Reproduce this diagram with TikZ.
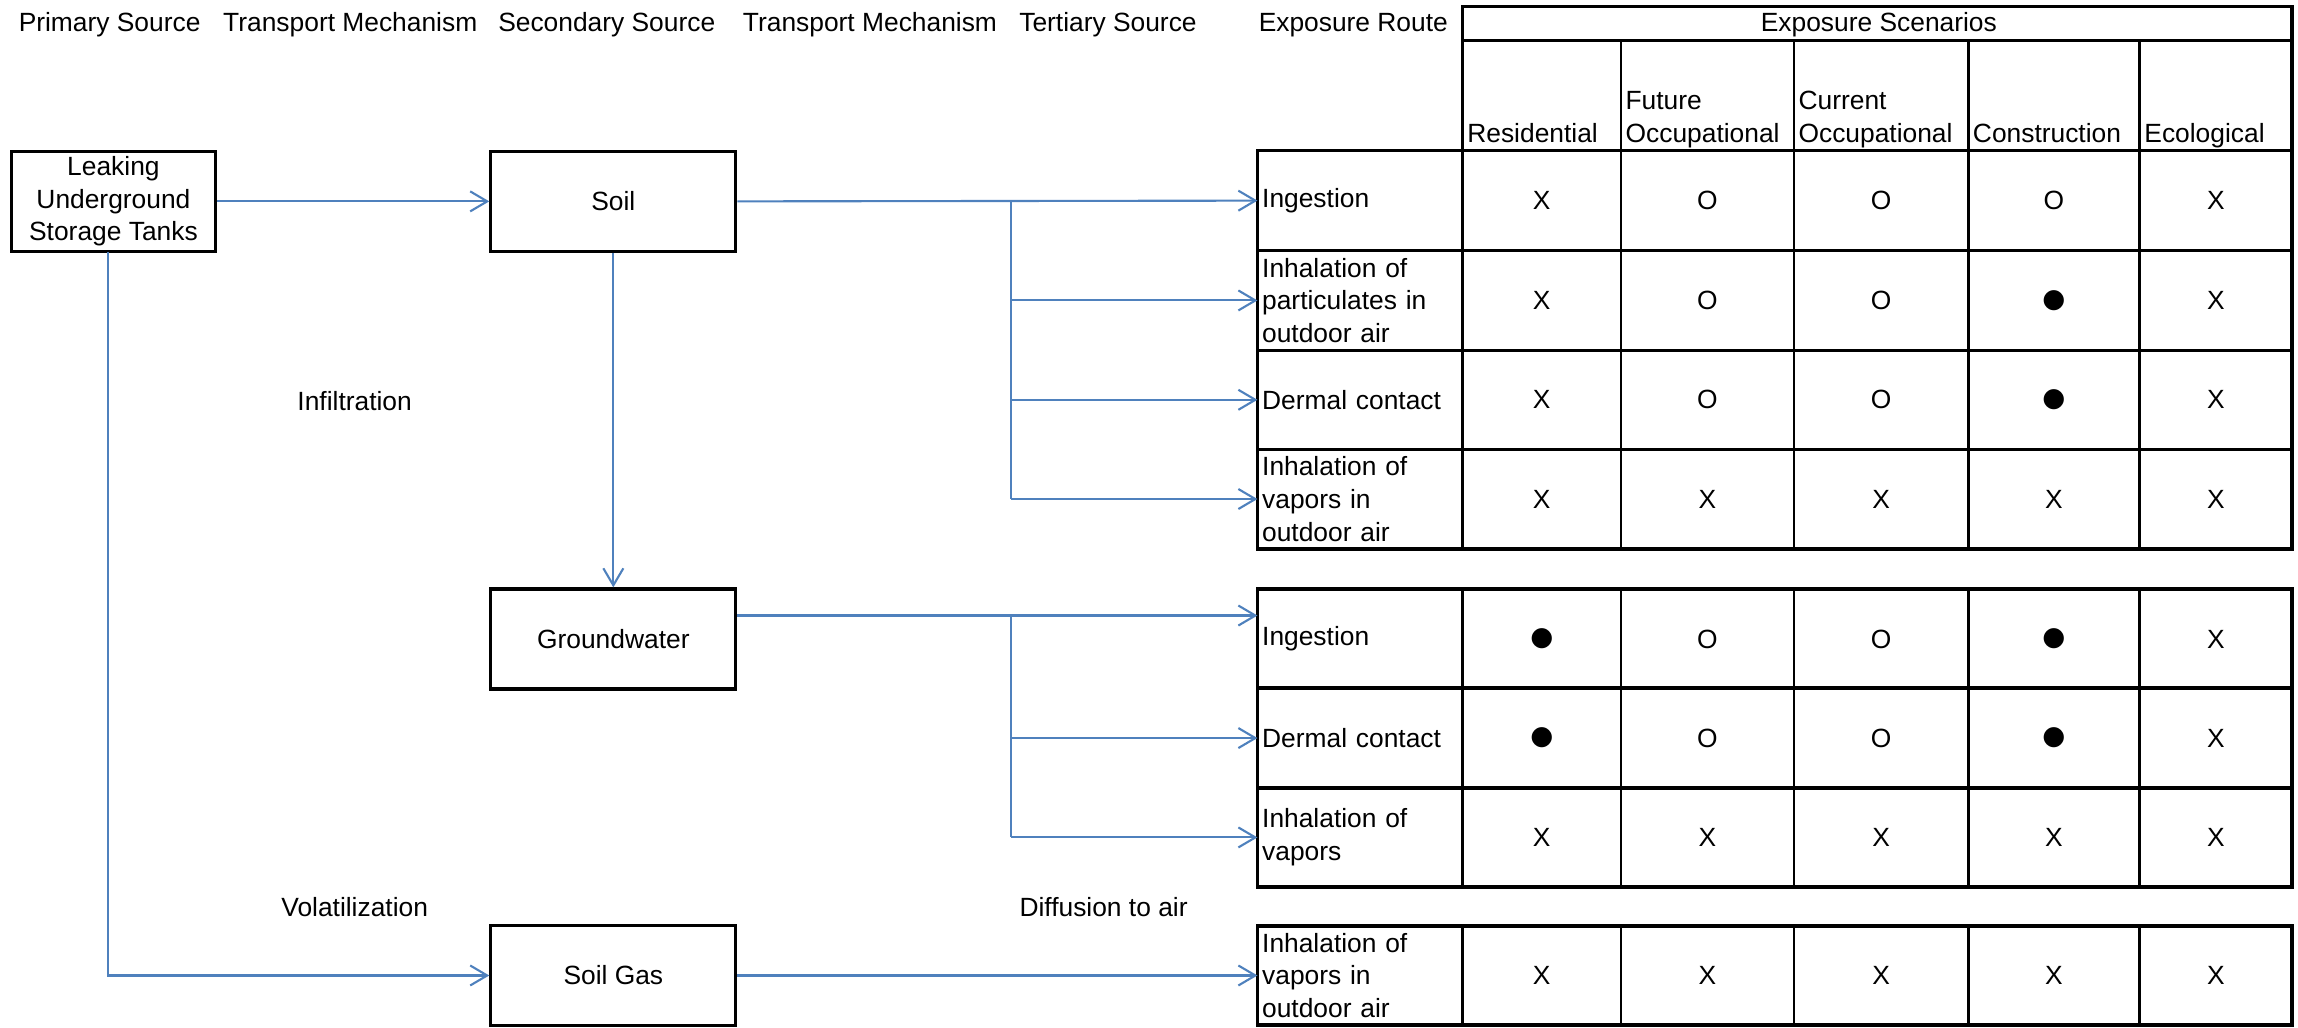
\documentclass[tikz,border=0pt]{standalone}
\usepackage{fontspec}
\setmainfont{Liberation Sans}
\newfontfamily\symfont{DejaVu Sans}
\usetikzlibrary{arrows.meta}
\definecolor{flowblue}{HTML}{4F81BD}
\newcommand{\bul}{{\symfont ●}}

\begin{document}
\begin{tikzpicture}[x=0.014656cm,y=-0.014656cm,
    every node/.style={font=\fontsize{7.5}{9.3}\selectfont},
    srcbox/.style={draw,line width=0.9pt,minimum width=2.448cm,minimum height=1.0cm,align=center,inner sep=0pt},
    route/.style={anchor=west,text width=1.97cm,inner xsep=0.04cm,inner ysep=0pt,align=left},
    colhead/.style={anchor=south west,text depth=0pt,inner xsep=0.04cm,inner ysep=0pt,align=left},
    cellmark/.style={inner sep=0pt},
    flow/.style={draw=flowblue,line width=0.6pt,-{Straight Barb[length=1.7mm,width=2mm]}},
    tapline/.style={draw=flowblue,line width=0.6pt},
    tabline/.style={line width=0.95pt},
    tabsep/.style={line width=0.75pt}]
              \useasboundingbox (0,0) rectangle (1568,701);

              \node[anchor=base] (hprim) at (74.8,21.6) {Primary Source};
              \node[anchor=base] (htra) at (239,21.6) {Transport Mechanism};
              \node[anchor=base] (hsec) at (414,21.6) {Secondary Source};
              \node[anchor=base] (htrb) at (593.6,21.6) {Transport Mechanism};
              \node[anchor=base] (hter) at (756,21.6) {Tertiary Source};
              \node[anchor=base] (hroute) at (923.4,21.6) {Exposure Route};
              \node[anchor=base] (hscen) at (1282,21.6) {Exposure Scenarios};

              \node[srcbox,minimum width=2.042cm] (lust) at (77.4,137.4) {Leaking\\Underground\\Storage Tanks};
              \node[srcbox] (soil) at (418.5,137.4) {Soil};
              \node[srcbox] (gw) at (418.5,436) {Groundwater};
              \node[srcbox] (sgas) at (418.5,665.6) {Soil Gas};

              \node[anchor=base] (infil) at (242,279.8) {Infiltration};
              \node[anchor=base] (volat) at (242,625.5) {Volatilization};
              \node[anchor=base] (diffu) at (753,625.5) {Diffusion to air};

              \draw[tabline] (998,4.5) rectangle (1564,102.8);
              \draw[tabline] (998,27.8) -- (1564,27.8);
              \foreach \x in {1106,1224,1343,1460}
                \draw[tabsep] (\x,27.8) -- (\x,102.8);
              \node[colhead] (cres) at (998,97.8) {Residential};
              \node[colhead] (cfut) at (1106,97.8) {Future\\Occupational};
              \node[colhead] (ccur) at (1224,97.8) {Current\\Occupational};
              \node[colhead] (ccon) at (1343,97.8) {Construction};
              \node[colhead] (ceco) at (1460,97.8) {Ecological};

              \draw[tabline] (858,102.8) rectangle (1564,374.5);
              \draw[tabline] (858,171) -- (1564,171) (858,239) -- (1564,239) (858,306.5) -- (1564,306.5);
              \draw[tabline] (858,402) rectangle (1564,605.3);
              \draw[tabline] (858,469.5) -- (1564,469.5) (858,537.7) -- (1564,537.7);
              \draw[tabline] (858,631.8) rectangle (1564,699.5);
              \foreach \x in {998,1106,1224,1343,1460}
                \draw[tabsep] (\x,102.8) -- (\x,374.5) (\x,402) -- (\x,605.3) (\x,631.8) -- (\x,699.5);

              \node[route] (r1) at (858,136.9) {Ingestion};
              \node[route] (r2) at (858,205) {Inhalation of\\particulates in\\outdoor air};
              \node[route] (r3) at (858,272.8) {Dermal contact};
              \node[route] (r4) at (858,340.5) {Inhalation of\\vapors in\\outdoor air};
              \node[route] (r5) at (858,436) {Ingestion};
              \node[route] (r6) at (858,503.6) {Dermal contact};
              \node[route] (r7) at (858,571.4) {Inhalation of\\vapors};
              \node[route] (r8) at (858,665.6) {Inhalation of\\vapors in\\outdoor air};

              \foreach \i/\y/\a/\b/\c/\d/\e in {1/136.9/X/O/O/O/X, 2/205/X/O/O/\bul/X, 3/272.8/X/O/O/\bul/X,
                  4/340.5/X/X/X/X/X, 5/436/\bul/O/O/\bul/X, 6/503.6/\bul/O/O/\bul/X,
                  7/571.4/X/X/X/X/X, 8/665.6/X/X/X/X/X}
              {
                \node[cellmark] (m\i a) at (1052,\y) {\a};
                \node[cellmark] (m\i b) at (1165,\y) {\b};
                \node[cellmark] (m\i c) at (1283.5,\y) {\c};
                \node[cellmark] (m\i d) at (1401.5,\y) {\d};
                \node[cellmark] (m\i e) at (1512,\y) {\e};
              }

              \coordinate (sfork) at (690,137.4);
              \coordinate (gfork) at (690,420);
              \coordinate (ldrop) at (73.8,172);
              \draw[flow] (lust) -- (soil);
              \draw[flow] (ldrop) |- (sgas.west);
              \draw[flow] (soil) -- (gw);
              \draw[flow] (soil.east) -- (r1.west);
              \draw[tapline] (sfork) -- (sfork |- r4.west);
              \draw[flow] (sfork |- r2.west) -- (r2.west);
              \draw[flow] (sfork |- r3.west) -- (r3.west);
              \draw[flow] (sfork |- r4.west) -- (r4.west);
              \draw[flow] (gw.east |- gfork) -- (r5.west |- gfork);
              \draw[tapline] (gfork) -- (gfork |- r7.west);
              \draw[flow] (gfork |- r6.west) -- (r6.west);
              \draw[flow] (gfork |- r7.west) -- (r7.west);
              \draw[flow] (sgas) -- (r8.west);
            \end{tikzpicture}
\end{document}
